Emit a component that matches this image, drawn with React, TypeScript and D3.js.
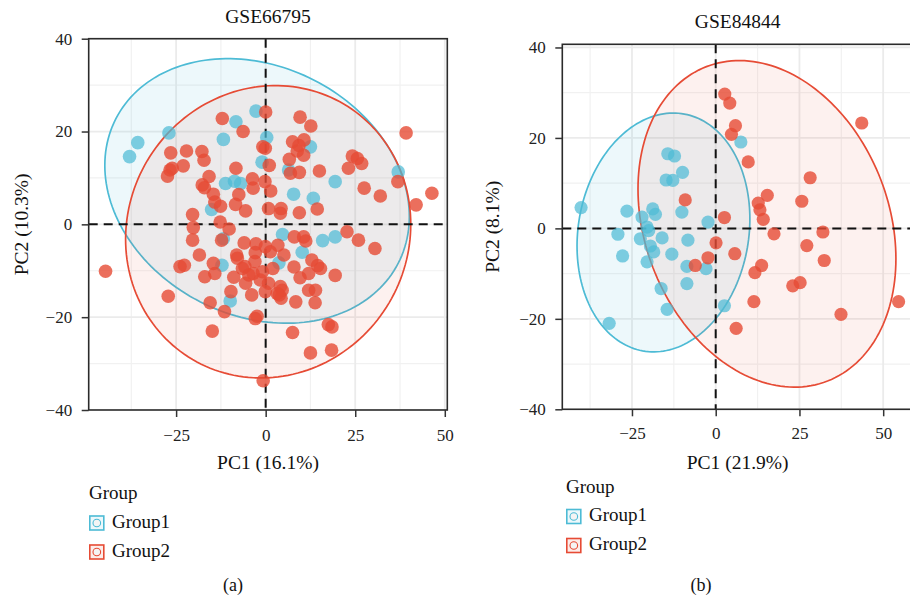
import React, { useRef, useEffect } from 'react';
import * as d3 from 'd3';

type Pt = [number, number];

// PCA scores, GSE66795
const gse66795Group1: Pt[] = [
    [-38.0, 14.6], [-35.7, 17.6], [-27.0, 19.7], [-11.8, 18.3], [-8.3, 22.1], [-2.7, 24.4],
    [0.3, 18.7], [-1.0, 13.4], [-11.2, 8.8], [-8.7, 9.3], [-7.0, 8.8], [-15.1, 3.2],
    [6.4, 11.7], [12.5, 16.7], [7.8, 6.5], [13.3, 5.6], [19.4, 9.2], [37.0, 11.3],
    [4.7, -2.2], [15.9, -3.5], [19.4, -2.7], [10.2, -6.0], [3.7, -8.3], [-11.8, -3.1],
    [-12.2, -8.8], [-9.9, -16.5],
];

const gse66795Group2: Pt[] = [
    [0.0, 24.2], [-12.1, 22.8], [-6.3, 20.0], [9.6, 23.1], [12.6, 21.2], [39.2, 19.7],
    [-26.5, 15.4], [-22.1, 15.8], [-17.8, 15.7], [-17.2, 13.8], [-23.0, 12.6], [-26.7, 11.7],
    [-27.4, 10.4], [-26.1, 12.1], [-15.8, 10.3], [-17.7, 8.5], [-17.1, 7.9], [-14.6, 6.5],
    [-14.2, 4.8], [-12.6, 3.9], [-20.4, 2.1], [-8.3, 12.1], [-3.7, 9.8], [-3.5, 7.8],
    [-7.5, 6.4], [-8.4, 4.3], [-5.6, 2.9], [-0.2, 9.2], [1.4, 7.2], [-0.8, 16.7],
    [1.0, 12.7], [0.8, 3.4], [4.3, 3.4], [4.1, 2.4], [9.4, 2.5], [14.4, 3.3],
    [7.5, 17.8], [9.3, 17.0], [10.7, 18.2], [8.8, 15.8], [10.6, 14.9], [6.6, 14.0],
    [6.9, 11.0], [9.4, 11.2], [15.0, 11.5], [23.1, 12.1], [24.2, 14.7], [25.6, 14.2],
    [26.8, 13.1], [27.5, 7.8], [32.0, 6.1], [36.9, 9.2], [42.0, 4.2], [46.4, 6.7],
    [-0.1, 16.4], [-12.7, 0.5], [-20.2, -0.7], [-10.2, -1.0], [-20.4, -3.4], [-12.3, -3.4],
    [-18.5, -6.6], [-23.9, -9.1], [-22.7, -8.8], [-17.0, -11.3], [-14.6, -8.4], [-8.1, -6.6],
    [-7.9, -7.3], [-2.7, -4.2], [-2.9, -6.1], [-0.1, -4.8], [1.3, -5.9], [3.4, -4.5],
    [5.1, -6.6], [8.0, -2.7], [10.6, -2.7], [11.2, -3.6], [22.7, -1.6], [25.9, -3.4],
    [30.5, -5.2], [12.9, -7.7], [14.5, -8.9], [15.3, -9.5], [19.4, -11.0], [7.9, -9.2],
    [9.6, -11.5], [12.0, -10.6], [-5.8, -9.1], [-3.5, -10.6], [-8.9, -11.4], [-44.7, -10.1],
    [-27.2, -15.5], [-15.5, -16.9], [-11.5, -18.8], [-9.7, -14.5], [-3.9, -15.2], [-2.9, -20.3],
    [-2.4, -19.8], [-0.1, -14.5], [3.8, -15.2], [4.3, -15.9], [8.4, -16.7], [12.0, -14.2],
    [13.8, -16.9], [7.5, -23.3], [17.5, -21.6], [18.5, -22.1], [18.4, -27.1], [12.5, -27.7],
    [-14.9, -23.0], [-0.7, -33.7], [-6.5, -9.5], [-5.6, -12.7], [-4.7, -10.9], [-0.9, -10.2],
    [-14.2, -10.6], [0.8, -12.7], [4.1, -13.4], [4.6, -14.2], [3.2, -14.9], [13.9, -14.2],
    [-3.0, -8.0], [-1.5, -12.0], [2.0, -9.5], [-6.0, -4.0],
];

// GSE84844
const gse84844Group1: Pt[] = [
    [-40.2, 4.6], [-26.5, 3.8], [-22.0, 2.5], [-18.8, 4.3], [-18.0, 3.1], [-20.5, 0.3],
    [-20.0, -0.5], [-29.2, -1.3], [-22.5, -2.3], [-16.0, -2.1], [-19.5, -3.9], [-18.5, -5.2],
    [-27.8, -6.1], [-20.5, -7.4], [-13.1, -5.7], [-8.3, -2.6], [-8.6, -8.4], [-2.9, -8.9],
    [-2.3, 1.4], [-10.1, 3.6], [-14.3, 16.5], [-12.3, 16.0], [-9.9, 12.4], [-14.8, 10.7],
    [-12.8, 10.6], [-16.3, -13.3], [-14.5, -17.9], [-8.6, -12.2], [-31.8, -21.0], [2.6, -17.1],
    [7.5, 19.1],
];

const gse84844Group2: Pt[] = [
    [2.7, 29.7], [4.2, 27.7], [5.9, 22.7], [4.7, 20.8], [-9.1, 6.3], [2.6, 2.4],
    [0.1, -3.2], [-2.3, -6.5], [-6.1, -8.2], [5.7, -5.6], [6.1, -22.1], [9.7, 14.7],
    [43.6, 23.3], [28.2, 11.2], [15.4, 7.3], [12.7, 5.6], [13.2, 4.1], [14.2, 2.0],
    [25.7, 6.0], [17.4, -1.2], [32.0, -0.8], [27.2, -3.8], [32.4, -7.1], [13.7, -8.2],
    [11.7, -9.8], [23.0, -12.7], [25.2, -12.0], [11.4, -16.2], [37.4, -19.0], [54.6, -16.2],
];

// confidence ellipses: centre x, centre y, half width, half height, y offset of the rightmost point
const gse66795Ellipses = [
    [-2.4, 7.2, 42.5, 28.5, -5.5],
    [0.7, -1.6, 39.8, 31.5, 1.6],
];
const gse84844Ellipses = [
    [-15.6, -0.9, 25.8, 26.4, 3.0],
    [15.3, 1.0, 38.5, 36.1, -7.7],
];

const xTicks = [-25, 0, 25, 50];
const yTicks = [-40, -20, 0, 20, 40];
const groups = ['Group1', 'Group2'];
const colors = ['#4DBBD5', '#E64B35'];

const FONT = "'Liberation Serif', 'DejaVu Serif', serif";

const panels = [
    {
        id: 'a', title: 'GSE66795', xLabel: 'PC1 (16.1%)', yLabel: 'PC2 (10.3%)',
        data: [gse66795Group1, gse66795Group2], ellipses: gse66795Ellipses,
        left: 88.7, right: 447.3, top: 38.7, bottom: 410,
        xDomain: [-49.4, 50.7], yDomain: [-40, 40],
        titleY: 22.7, xLabelY: 469, yLabelX: 27.5, xPad: 12,
        legendX: 89, legendY: 499, captionX: 233, captionY: 591, r: 6.8,
    },
    {
        id: 'b', title: 'GSE84844', xLabel: 'PC1 (21.9%)', yLabel: 'PC2 (8.1%)',
        data: [gse84844Group1, gse84844Group2], ellipses: gse84844Ellipses,
        left: 562.3, right: 913, top: 44.3, bottom: 409.3,
        xDomain: [-45.8, 58.9], yDomain: [-40, 40.7],
        titleY: 28, xLabelY: 469, yLabelX: 499, xPad: 11,
        legendX: 566, legendY: 492.5, captionX: 701, captionY: 591, r: 6.6,
    },
];

const angles = d3.range(0, 2 * Math.PI, Math.PI / 90);

function ellipsePoints([cx, cy, wx, wy, k]: number[]): Pt[] {
    const m = Math.sqrt(wy * wy - k * k);
    return angles.map((t) => [cx + wx * Math.cos(t), cy + k * Math.cos(t) + m * Math.sin(t)]);
}

function drawPanel(svg: any, p: any) {
    const x = d3.scaleLinear(p.xDomain, [p.left, p.right]);
    const y = d3.scaleLinear(p.yDomain, [p.bottom, p.top]);

    const clipId = 'clip-' + p.id;
    svg.append('clipPath').attr('id', clipId)
        .append('rect')
        .attr('x', p.left).attr('y', p.top)
        .attr('width', p.right - p.left).attr('height', p.bottom - p.top);

    const plot = svg.append('g').attr('clip-path', `url(#${clipId})`);
    plot.append('rect')
        .attr('x', p.left).attr('y', p.top)
        .attr('width', p.right - p.left).attr('height', p.bottom - p.top)
        .attr('fill', '#fff');

    // grid
    const xMinor = xTicks.map((t) => t - 12.5).concat([xTicks[xTicks.length - 1] + 12.5]);
    const yMinor = yTicks.slice(1).map((t) => t - 10);
    plot.selectAll('.gxm').data(xMinor).join('line')
        .attr('x1', (d) => x(d)).attr('x2', (d) => x(d))
        .attr('y1', p.top).attr('y2', p.bottom)
        .attr('stroke', '#f1f1f1').attr('stroke-width', 1.2);
    plot.selectAll('.gym').data(yMinor).join('line')
        .attr('y1', (d) => y(d)).attr('y2', (d) => y(d))
        .attr('x1', p.left).attr('x2', p.right)
        .attr('stroke', '#f1f1f1').attr('stroke-width', 1.2);
    plot.selectAll('.gx').data(xTicks).join('line')
        .attr('x1', (d) => x(d)).attr('x2', (d) => x(d))
        .attr('y1', p.top).attr('y2', p.bottom)
        .attr('stroke', '#ebebeb').attr('stroke-width', 1.8);
    plot.selectAll('.gy').data(yTicks).join('line')
        .attr('y1', (d) => y(d)).attr('y2', (d) => y(d))
        .attr('x1', p.left).attr('x2', p.right)
        .attr('stroke', '#ebebeb').attr('stroke-width', 1.8);

    // ellipses
    const line = d3.line<Pt>()
        .x((d) => x(d[0]))
        .y((d) => y(d[1]))
        .curve(d3.curveLinearClosed);
    p.ellipses.forEach((e: number[], i: number) => {
        plot.append('path')
            .attr('d', line(ellipsePoints(e)))
            .attr('fill', colors[i])
            .attr('fill-opacity', i === 0 ? 0.1 : 0.08)
            .attr('stroke', colors[i])
            .attr('stroke-width', 1.7);
    });

    // reference lines
    plot.append('line')
        .attr('x1', x(0)).attr('x2', x(0)).attr('y1', p.top).attr('y2', p.bottom)
        .attr('stroke', '#111').attr('stroke-width', 2).attr('stroke-dasharray', '9 6');
    plot.append('line')
        .attr('y1', y(0)).attr('y2', y(0)).attr('x1', p.left).attr('x2', p.right)
        .attr('stroke', '#111').attr('stroke-width', 2).attr('stroke-dasharray', '9 6');

    // points
    p.data.forEach((pts: Pt[], i: number) => {
        plot.append('g').selectAll('circle').data(pts).join('circle')
            .attr('cx', (d) => x(d[0]))
            .attr('cy', (d) => y(d[1]))
            .attr('r', p.r)
            .attr('fill', colors[i])
            .attr('fill-opacity', i === 0 ? 0.72 : 0.8);
    });

    // border
    svg.append('rect')
        .attr('x', p.left).attr('y', p.top)
        .attr('width', p.right - p.left).attr('height', p.bottom - p.top)
        .attr('fill', 'none').attr('stroke', '#2b2b2b').attr('stroke-width', 1.6);

    const styleAxis = (g: any) => {
        g.select('.domain').remove();
        g.selectAll('line').attr('stroke', '#333').attr('stroke-width', 1.5);
        g.selectAll('text').attr('font-family', FONT).attr('font-size', 17).attr('fill', '#222');
    };

    svg.append('g')
        .attr('transform', `translate(0,${p.bottom})`)
        .call(d3.axisBottom(x).tickValues(xTicks).tickSize(7).tickPadding(p.xPad))
        .call(styleAxis);
    svg.append('g')
        .attr('transform', `translate(${p.left},0)`)
        .call(d3.axisLeft(y).tickValues(yTicks).tickSize(7).tickPadding(9.5))
        .call(styleAxis);

    const cx = (p.left + p.right) / 2;
    const cy = (p.top + p.bottom) / 2;

    svg.append('text')
        .attr('x', cx).attr('y', p.titleY)
        .attr('text-anchor', 'middle')
        .attr('font-family', FONT).attr('font-size', 19.5).attr('fill', '#111')
        .text(p.title);
    svg.append('text')
        .attr('x', cx).attr('y', p.xLabelY)
        .attr('text-anchor', 'middle')
        .attr('font-family', FONT).attr('font-size', 19.5).attr('fill', '#111')
        .text(p.xLabel);
    svg.append('text')
        .attr('transform', `translate(${p.yLabelX},${cy}) rotate(-90)`)
        .attr('text-anchor', 'middle')
        .attr('font-family', FONT).attr('font-size', 19.5).attr('fill', '#111')
        .text(p.yLabel);

    // legend
    const legend = svg.append('g').attr('transform', `translate(${p.legendX},${p.legendY})`);
    legend.append('text')
        .attr('x', 0).attr('y', 0)
        .attr('font-family', FONT).attr('font-size', 19).attr('fill', '#111')
        .text('Group');
    groups.forEach((name, i) => {
        const ky = 17 + i * 29;
        legend.append('rect')
            .attr('x', 0.8).attr('y', ky)
            .attr('width', 14).attr('height', 14)
            .attr('fill', colors[i]).attr('fill-opacity', 0.1)
            .attr('stroke', colors[i]).attr('stroke-width', 1.6);
        legend.append('circle')
            .attr('cx', 7.8).attr('cy', ky + 7)
            .attr('r', 3.8)
            .attr('fill', '#f4f4f4')
            .attr('stroke', colors[i]).attr('stroke-width', 1.1);
        legend.append('text')
            .attr('x', 23).attr('y', ky + 11.5)
            .attr('font-family', FONT).attr('font-size', 19).attr('fill', '#111')
            .text(name);
    });

    svg.append('text')
        .attr('x', p.captionX).attr('y', p.captionY)
        .attr('text-anchor', 'middle')
        .attr('font-family', FONT).attr('font-size', 18).attr('fill', '#111')
        .text(`(${p.id})`);
}

export default function App() {
    const svg_ref = useRef<SVGSVGElement>(null);

    useEffect(() => {
        const svg = d3.select(svg_ref.current);
        svg.selectAll('*').remove();
        panels.forEach((p) => drawPanel(svg, p));
    }, []);

    return (
        <svg
            ref={svg_ref}
            width={910}
            height={608}
            style={{ position: 'absolute', left: 0, top: 0, background: '#fff' }}
        />
    );
}
